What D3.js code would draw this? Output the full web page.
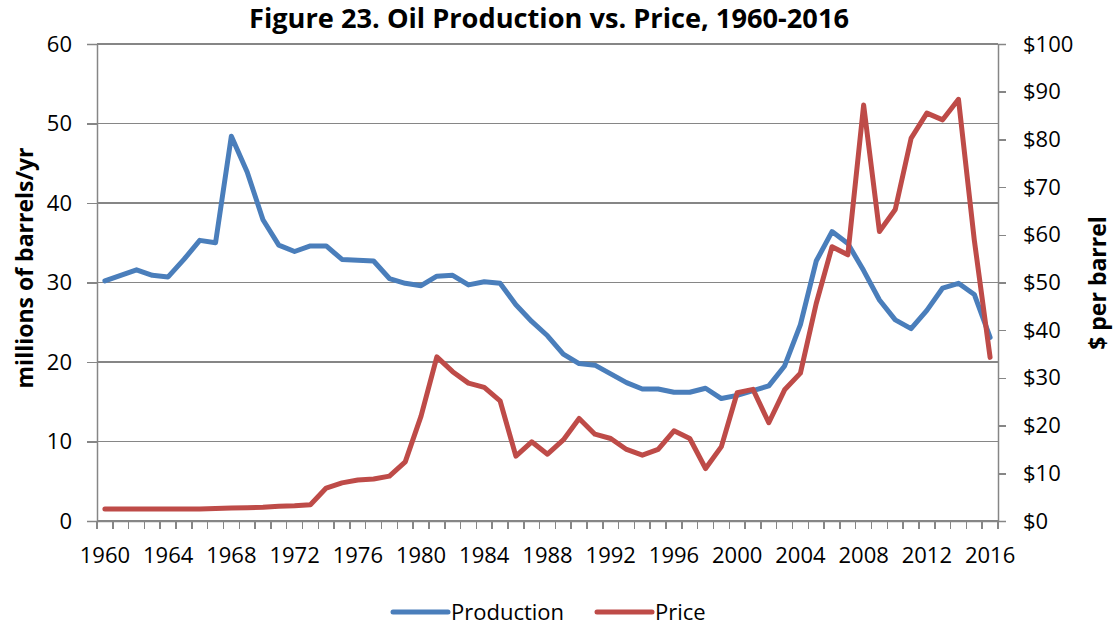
<!DOCTYPE html>
<html>
<head>
<meta charset="utf-8">
<script src="https://cdn.jsdelivr.net/npm/d3@7"></script>
<style>
  html, body { margin: 0; padding: 0; background: #fff; }
  svg { display: block; font-family: "Open Sans", Lato, sans-serif; }
</style>
</head>
<body>
<svg id="chart" width="1114" height="625"></svg>
<script>
// Years on the category axis
var years = [1960, 1961, 1962, 1963, 1964, 1965, 1966, 1967, 1968, 1969,
             1970, 1971, 1972, 1973, 1974, 1975, 1976, 1977, 1978, 1979,
             1980, 1981, 1982, 1983, 1984, 1985, 1986, 1987, 1988, 1989,
             1990, 1991, 1992, 1993, 1994, 1995, 1996, 1997, 1998, 1999,
             2000, 2001, 2002, 2003, 2004, 2005, 2006, 2007, 2008, 2009,
             2010, 2011, 2012, 2013, 2014, 2015, 2016];

// Production, millions of barrels/yr (left axis)
var production = [30.2, 30.9, 31.6, 30.9, 30.7, 32.9, 35.3, 35.0, 48.4, 43.9,
                  37.9, 34.7, 33.9, 34.6, 34.6, 32.9, 32.8, 32.7, 30.5, 29.9,
                  29.6, 30.8, 30.9, 29.7, 30.1, 29.9, 27.2, 25.1, 23.3, 21.0,
                  19.8, 19.6, 18.5, 17.4, 16.6, 16.6, 16.2, 16.2, 16.7, 15.4,
                  15.8, 16.4, 17.0, 19.5, 24.7, 32.7, 36.4, 34.9, 31.5, 27.8,
                  25.3, 24.2, 26.5, 29.3, 29.9, 28.5, 23.1];

// Price, $ per barrel (right axis)
var price = [2.5, 2.5, 2.5, 2.5, 2.5, 2.5, 2.5, 2.6, 2.7, 2.8,
             2.9, 3.1, 3.2, 3.4, 6.9, 8.0, 8.6, 8.8, 9.4, 12.4,
             22.0, 34.4, 31.3, 28.9, 28.0, 25.2, 13.6, 16.6, 14.0, 17.0,
             21.5, 18.2, 17.3, 15.0, 13.8, 15.0, 18.9, 17.3, 11.0, 15.6,
             26.9, 27.6, 20.6, 27.5, 31.0, 45.6, 57.5, 55.8, 87.2, 60.7,
             65.3, 80.2, 85.5, 84.1, 88.4, 58.9, 34.3];

var leftTicks = [0, 10, 20, 30, 40, 50, 60];
var rightTicks = [0, 10, 20, 30, 40, 50, 60, 70, 80, 90, 100];
var labelYears = [1960, 1964, 1968, 1972, 1976, 1980, 1984, 1988, 1992, 1996, 2000, 2004, 2008, 2012, 2016];

var seriesNames = ["Production", "Price"];
var seriesColors = ["#4A7EBB", "#BE4B48"];

var svg = d3.select("#chart");
var plot = { left: 97, right: 998, top: 44, bottom: 521 };
var axisColor = "#868686";
var fontSize = 22;

var x = d3.scaleBand().domain(years).range([plot.left, plot.right]);
var yL = d3.scaleLinear().domain([0, 60]).range([plot.bottom, plot.top]);
var yR = d3.scaleLinear().domain([0, 100]).range([plot.bottom, plot.top]);
var cx = function (yr) { return x(yr) + x.bandwidth() / 2; };

// Horizontal gridlines (left axis)
svg.append("g")
    .selectAll("line")
    .data(leftTicks)
    .enter()
    .append("line")
        .attr("x1", plot.left)
        .attr("x2", plot.right)
        .attr("y1", function (d) { return yL(d); })
        .attr("y2", function (d) { return yL(d); })
        .style("stroke", axisColor)
        .style("stroke-width", 1.5)
        .style("shape-rendering", "crispEdges");

// Left axis
var leftAxis = svg.append("g")
    .attr("transform", "translate(" + plot.left + ",0)")
    .call(d3.axisLeft(yL).tickValues(leftTicks).tickSize(10).tickPadding(15));

// Right axis
var rightAxis = svg.append("g")
    .attr("transform", "translate(" + plot.right + ",0)")
    .call(d3.axisRight(yR).tickValues(rightTicks).tickSize(8).tickPadding(17)
        .tickFormat(function (d) { return "$" + d; }));

// Bottom axis: labels at every 4th year, tick marks at category boundaries
var bottomAxis = svg.append("g")
    .attr("transform", "translate(0," + plot.bottom + ")")
    .call(d3.axisBottom(x).tickValues(labelYears).tickSize(0).tickPadding(26));

var boundaries = years.map(function (yr) { return x(yr); }).concat([plot.right]);
bottomAxis.selectAll(".bound")
    .data(boundaries)
    .enter()
    .append("line")
        .attr("class", "bound")
        .attr("x1", function (d) { return d; })
        .attr("x2", function (d) { return d; })
        .attr("y1", 0)
        .attr("y2", 8);

[leftAxis, rightAxis, bottomAxis].forEach(function (g) {
    g.selectAll("path.domain").style("stroke", axisColor).style("stroke-width", 1.5);
    g.selectAll("line").style("stroke", axisColor).style("stroke-width", 1.5)
        .style("shape-rendering", "crispEdges");
    g.selectAll("text")
        .style("font-family", "'Open Sans', Lato, sans-serif")
        .style("font-size", fontSize + "px")
        .style("fill", "#000");
});

// Series lines
var lineL = d3.line()
    .x(function (d, i) { return cx(years[i]); })
    .y(function (d) { return yL(d); });
var lineR = d3.line()
    .x(function (d, i) { return cx(years[i]); })
    .y(function (d) { return yR(d); });

svg.append("path")
    .datum(production)
    .attr("d", lineL)
    .style("fill", "none")
    .style("stroke", seriesColors[0])
    .style("stroke-width", 5)
    .style("stroke-linejoin", "round")
    .style("stroke-linecap", "round");

svg.append("path")
    .datum(price)
    .attr("d", lineR)
    .style("fill", "none")
    .style("stroke", seriesColors[1])
    .style("stroke-width", 5)
    .style("stroke-linejoin", "round")
    .style("stroke-linecap", "round");

// Title
svg.append("text")
    .attr("x", 549)
    .attr("y", 28)
    .attr("text-anchor", "middle")
    .attr("textLength", 600)
    .attr("lengthAdjust", "spacingAndGlyphs")
    .style("font-weight", "bold")
    .style("font-size", "26px")
    .text("Figure 23. Oil Production vs. Price, 1960-2016");

// Axis titles
svg.append("text")
    .attr("transform", "translate(33,268) rotate(-90)")
    .attr("text-anchor", "middle")
    .style("font-weight", "bold")
    .style("font-size", "23px")
    .text("millions of barrels/yr");

svg.append("text")
    .attr("transform", "translate(1106,283) rotate(-90)")
    .attr("text-anchor", "middle")
    .style("font-weight", "bold")
    .style("font-size", "23px")
    .text("$ per barrel");

// Legend
var legendX = [393, 597];
var legend = svg.selectAll(".legend")
    .data(seriesNames)
    .enter()
    .append("g")
        .attr("class", "legend")
        .attr("transform", function (d, i) { return "translate(" + legendX[i] + ",612)"; });

legend.append("line")
    .attr("x1", 0)
    .attr("x2", 55)
    .attr("y1", 0)
    .attr("y2", 0)
    .style("stroke", function (d, i) { return seriesColors[i]; })
    .style("stroke-width", 5)
    .style("stroke-linecap", "round");

legend.append("text")
    .attr("x", 58)
    .attr("y", 8)
    .style("font-size", fontSize + "px")
    .text(function (d) { return d; });
</script>
</body>
</html>
